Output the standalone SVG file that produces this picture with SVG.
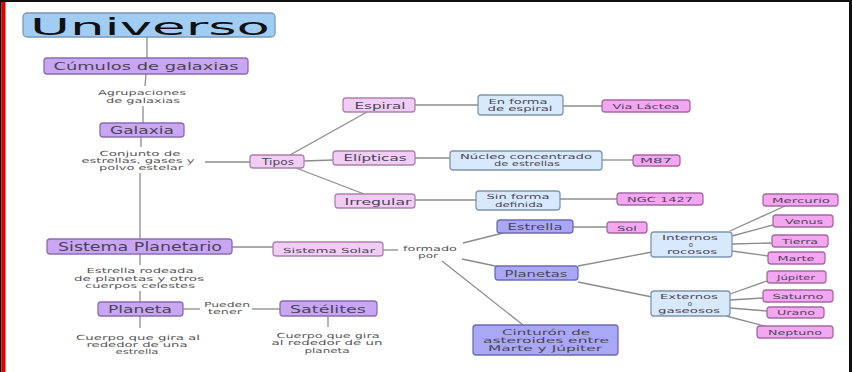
<svg xmlns="http://www.w3.org/2000/svg" width="852" height="372" viewBox="0 0 852 372">
<style>
text{font-family:"DejaVu Sans","Liberation Sans",sans-serif;text-anchor:middle;fill:#4a4458}
.n text{font-size:8.5px}
.n text.s{font-size:7px}
.lb{font-size:7px;fill:#555}
.big{font-size:10.5px}
rect{stroke-width:1.3}
.uni{fill:#a2cdf3;stroke:#7b98b8}
.pur{fill:#c9a6f2;stroke:#8a6cb2}
.lav{fill:#f1cdf4;stroke:#ac80b0}
.blu{fill:#d7e9fb;stroke:#7f95ae}
.pnk{fill:#f4a7f1;stroke:#a568a5}
.per{fill:#aaa8f4;stroke:#6c6bb2}
#connectors line{stroke:#8c8c8c;stroke-width:1.3;fill:none}
</style>
<rect width="852" height="372" fill="#fff"/>
<rect x="0" y="0" width="852" height="2" fill="#111"/>
<rect x="0" y="0" width="1.5" height="372" fill="#111"/>
<rect x="1.5" y="2" width="4" height="370" fill="#e00000"/>
<rect x="849" y="0" width="3" height="372" fill="#111"/>

<g id="connectors">
<line x1="147" y1="37" x2="147" y2="58"/>
<line x1="146" y1="74" x2="145" y2="86"/>
<line x1="143" y1="106" x2="143" y2="123"/>
<line x1="141" y1="137" x2="141" y2="147"/>
<line x1="140" y1="173" x2="140" y2="239"/>
<line x1="205" y1="162" x2="250" y2="162"/>
<line x1="290" y1="155" x2="367" y2="112"/>
<line x1="304" y1="161" x2="333" y2="160"/>
<line x1="296" y1="168" x2="364" y2="194"/>
<line x1="415" y1="105" x2="478" y2="105"/>
<line x1="563" y1="106" x2="602" y2="106"/>
<line x1="415" y1="158" x2="450" y2="158"/>
<line x1="602" y1="160" x2="633" y2="160"/>
<line x1="415" y1="200" x2="476" y2="200"/>
<line x1="560" y1="199" x2="617" y2="199"/>
<line x1="232" y1="247" x2="273" y2="247"/>
<line x1="383" y1="250" x2="398" y2="250"/>
<line x1="463" y1="243" x2="503" y2="233"/>
<line x1="573" y1="227" x2="607" y2="227"/>
<line x1="462" y1="259" x2="500" y2="267"/>
<line x1="442" y1="261" x2="523" y2="325"/>
<line x1="578" y1="266" x2="652" y2="252"/>
<line x1="578" y1="282" x2="652" y2="297"/>
<line x1="730" y1="231" x2="785" y2="206"/>
<line x1="732" y1="236" x2="773" y2="225"/>
<line x1="732" y1="244" x2="772" y2="243"/>
<line x1="732" y1="251" x2="768" y2="256"/>
<line x1="730" y1="294" x2="767" y2="281"/>
<line x1="730" y1="300" x2="763" y2="298"/>
<line x1="730" y1="308" x2="767" y2="311"/>
<line x1="726" y1="316" x2="768" y2="327"/>
<line x1="140" y1="254" x2="140" y2="265"/>
<line x1="140" y1="291" x2="140" y2="302"/>
<line x1="183" y1="309" x2="200" y2="309"/>
<line x1="252" y1="309" x2="280" y2="309"/>
<line x1="140" y1="316" x2="140" y2="328"/>
<line x1="328" y1="316" x2="328" y2="327"/>
</g>

<g id="universo"><rect class="uni" x="23" y="13" width="252" height="24" rx="4"/><text x="150" y="34.5" font-size="23" textLength="240" lengthAdjust="spacingAndGlyphs" style="fill:#111">Universo</text></g>
<g id="cumulos"><rect class="pur" x="44" y="58" width="204" height="16" rx="3"/><text class="big" x="146" y="69.5" textLength="185" lengthAdjust="spacingAndGlyphs">Cúmulos de galaxias</text></g>
<g id="lbl-agrupaciones"><text class="lb" x="142" y="95" textLength="88" lengthAdjust="spacingAndGlyphs">Agrupaciones</text><text class="lb" x="143" y="102.5" textLength="74" lengthAdjust="spacingAndGlyphs">de galaxias</text></g>
<g id="galaxia"><rect class="pur" x="100" y="123" width="84" height="14" rx="3"/><text class="big" x="142" y="134" textLength="64" lengthAdjust="spacingAndGlyphs">Galaxia</text></g>
<g id="lbl-conjunto"><text class="lb" x="140" y="156" textLength="81" lengthAdjust="spacingAndGlyphs">Conjunto de</text><text class="lb" x="138" y="163" textLength="113" lengthAdjust="spacingAndGlyphs">estrellas, gases y</text><text class="lb" x="141" y="170" textLength="84" lengthAdjust="spacingAndGlyphs">polvo estelar</text></g>
<g id="tipos" class="n"><rect class="lav" x="250" y="155" width="54" height="13" rx="3"/><text x="278" y="164.5" textLength="32" lengthAdjust="spacingAndGlyphs">Tipos</text></g>
<g id="espiral" class="n"><rect class="lav" x="343" y="98" width="72" height="14" rx="3"/><text x="380" y="108.5" textLength="51" lengthAdjust="spacingAndGlyphs">Espiral</text></g>
<g id="elipticas" class="n"><rect class="lav" x="333" y="151" width="82" height="14" rx="3"/><text x="375" y="161" textLength="63" lengthAdjust="spacingAndGlyphs">Elípticas</text></g>
<g id="irregular" class="n"><rect class="lav" x="335" y="194" width="80" height="14" rx="3"/><text x="378" y="204.5" textLength="67" lengthAdjust="spacingAndGlyphs">Irregular</text></g>
<g id="en-forma" class="n"><rect class="blu" x="478" y="95" width="85" height="20" rx="3"/><text class="s" x="518" y="103.5" textLength="59" lengthAdjust="spacingAndGlyphs">En forma</text><text class="s" x="520" y="111" textLength="65" lengthAdjust="spacingAndGlyphs">de espiral</text></g>
<g id="via-lactea" class="n"><rect class="pnk" x="602" y="100" width="88" height="12" rx="3"/><text class="s" x="646" y="108.5" textLength="67" lengthAdjust="spacingAndGlyphs">Via Láctea</text></g>
<g id="nucleo" class="n"><rect class="blu" x="450" y="151" width="152" height="19" rx="3"/><text class="s" x="526" y="158.5" textLength="132" lengthAdjust="spacingAndGlyphs">Núcleo concentrado</text><text class="s" x="527" y="166" textLength="66" lengthAdjust="spacingAndGlyphs">de estrellas</text></g>
<g id="m87" class="n"><rect class="pnk" x="633" y="155" width="47" height="11" rx="3"/><text class="s" x="656" y="163" textLength="32" lengthAdjust="spacingAndGlyphs">M87</text></g>
<g id="sin-forma" class="n"><rect class="blu" x="476" y="191" width="84" height="19" rx="3"/><text class="s" x="518" y="199" textLength="63" lengthAdjust="spacingAndGlyphs">Sin forma</text><text class="s" x="519" y="206.5" textLength="48" lengthAdjust="spacingAndGlyphs">definida</text></g>
<g id="ngc1427" class="n"><rect class="pnk" x="617" y="193" width="86" height="12" rx="3"/><text class="s" x="660" y="201.5" textLength="66" lengthAdjust="spacingAndGlyphs">NGC 1427</text></g>
<g id="sistema-planetario"><rect class="pur" x="47" y="239" width="185" height="15" rx="3"/><text x="140" y="250.5" font-size="11.5" textLength="164" lengthAdjust="spacingAndGlyphs">Sistema Planetario</text></g>
<g id="sistema-solar" class="n"><rect class="lav" x="273" y="242" width="110" height="14" rx="3"/><text class="s" x="329" y="252.5" textLength="92" lengthAdjust="spacingAndGlyphs">Sistema Solar</text></g>
<g id="lbl-formado"><text class="lb" x="430" y="251" textLength="54" lengthAdjust="spacingAndGlyphs">formado</text><text class="lb" x="428" y="258" textLength="20" lengthAdjust="spacingAndGlyphs">por</text></g>
<g id="estrella" class="n"><rect class="per" x="497" y="220" width="76" height="13" rx="3"/><text x="535" y="229.5" textLength="55" lengthAdjust="spacingAndGlyphs">Estrella</text></g>
<g id="sol" class="n"><rect class="pnk" x="607" y="222" width="40" height="11" rx="3"/><text class="s" x="627" y="230.5" textLength="20" lengthAdjust="spacingAndGlyphs">Sol</text></g>
<g id="planetas" class="n"><rect class="per" x="495" y="266" width="83" height="14" rx="3"/><text x="536" y="276.5" textLength="63" lengthAdjust="spacingAndGlyphs">Planetas</text></g>
<g id="cinturon"><rect class="per" x="473" y="325" width="145" height="30" rx="3"/><text x="546" y="334.5" font-size="7.8" textLength="88" lengthAdjust="spacingAndGlyphs">Cinturón de</text><text x="546" y="342.5" font-size="7.8" textLength="126" lengthAdjust="spacingAndGlyphs">asteroides entre</text><text x="545" y="351" font-size="7.8" textLength="114" lengthAdjust="spacingAndGlyphs">Marte y Júpiter</text></g>
<g id="internos" class="n"><rect class="blu" x="651" y="232" width="81" height="25" rx="3"/><text class="s" x="690" y="240" textLength="56" lengthAdjust="spacingAndGlyphs">Internos</text><text class="s" x="691" y="246.5">o</text><text class="s" x="692" y="253.5" textLength="50" lengthAdjust="spacingAndGlyphs">rocosos</text></g>
<g id="externos" class="n"><rect class="blu" x="651" y="291" width="79" height="25" rx="3"/><text class="s" x="689" y="299" textLength="58" lengthAdjust="spacingAndGlyphs">Externos</text><text class="s" x="690" y="305.5">o</text><text class="s" x="689" y="312.5" textLength="62" lengthAdjust="spacingAndGlyphs">gaseosos</text></g>
<g id="mercurio" class="n"><rect class="pnk" x="763" y="194" width="75" height="12" rx="3"/><text class="s" x="801" y="202.5" textLength="58" lengthAdjust="spacingAndGlyphs">Mercurio</text></g>
<g id="venus" class="n"><rect class="pnk" x="773" y="215" width="60" height="12" rx="3"/><text class="s" x="804" y="223.5" textLength="38" lengthAdjust="spacingAndGlyphs">Venus</text></g>
<g id="tierra" class="n"><rect class="pnk" x="772" y="235" width="56" height="12" rx="3"/><text class="s" x="800" y="243.5" textLength="36" lengthAdjust="spacingAndGlyphs">Tierra</text></g>
<g id="marte" class="n"><rect class="pnk" x="768" y="252" width="57" height="12" rx="3"/><text class="s" x="796" y="260.5" textLength="37" lengthAdjust="spacingAndGlyphs">Marte</text></g>
<g id="jupiter" class="n"><rect class="pnk" x="767" y="271" width="59" height="12" rx="3"/><text class="s" x="796" y="279.5" textLength="38" lengthAdjust="spacingAndGlyphs">Júpiter</text></g>
<g id="saturno" class="n"><rect class="pnk" x="763" y="290" width="70" height="12" rx="3"/><text class="s" x="798" y="298.5" textLength="51" lengthAdjust="spacingAndGlyphs">Saturno</text></g>
<g id="urano" class="n"><rect class="pnk" x="767" y="307" width="57" height="11" rx="3"/><text class="s" x="796" y="315" textLength="38" lengthAdjust="spacingAndGlyphs">Urano</text></g>
<g id="neptuno" class="n"><rect class="pnk" x="757" y="326" width="76" height="12" rx="3"/><text class="s" x="795" y="334.5" textLength="54" lengthAdjust="spacingAndGlyphs">Neptuno</text></g>
<g id="lbl-estrella-rodeada"><text class="lb" x="140" y="273" textLength="107" lengthAdjust="spacingAndGlyphs">Estrella rodeada</text><text class="lb" x="139" y="280.5" textLength="130" lengthAdjust="spacingAndGlyphs">de planetas y otros</text><text class="lb" x="140" y="288" textLength="110" lengthAdjust="spacingAndGlyphs">cuerpos celestes</text></g>
<g id="planeta"><rect class="pur" x="98" y="302" width="85" height="14" rx="3"/><text class="big" x="140" y="313" textLength="64" lengthAdjust="spacingAndGlyphs">Planeta</text></g>
<g id="lbl-pueden"><text class="lb" x="227" y="307" textLength="46" lengthAdjust="spacingAndGlyphs">Pueden</text><text class="lb" x="225" y="314" textLength="34" lengthAdjust="spacingAndGlyphs">tener</text></g>
<g id="satelites"><rect class="pur" x="280" y="301" width="97" height="15" rx="3"/><text class="big" x="328" y="312.5" textLength="76" lengthAdjust="spacingAndGlyphs">Satélites</text></g>
<g id="lbl-cuerpo-planeta"><text class="lb" x="138" y="340" textLength="124" lengthAdjust="spacingAndGlyphs">Cuerpo que gira al</text><text class="lb" x="137" y="347" textLength="101" lengthAdjust="spacingAndGlyphs">rededor de una</text><text class="lb" x="137" y="354" textLength="43" lengthAdjust="spacingAndGlyphs">estrella</text></g>
<g id="lbl-cuerpo-satelite"><text class="lb" x="328" y="338" textLength="103" lengthAdjust="spacingAndGlyphs">Cuerpo que gira</text><text class="lb" x="327" y="345" textLength="111" lengthAdjust="spacingAndGlyphs">al rededor de un</text><text class="lb" x="327" y="352.5" textLength="45" lengthAdjust="spacingAndGlyphs">planeta</text></g>
</svg>
